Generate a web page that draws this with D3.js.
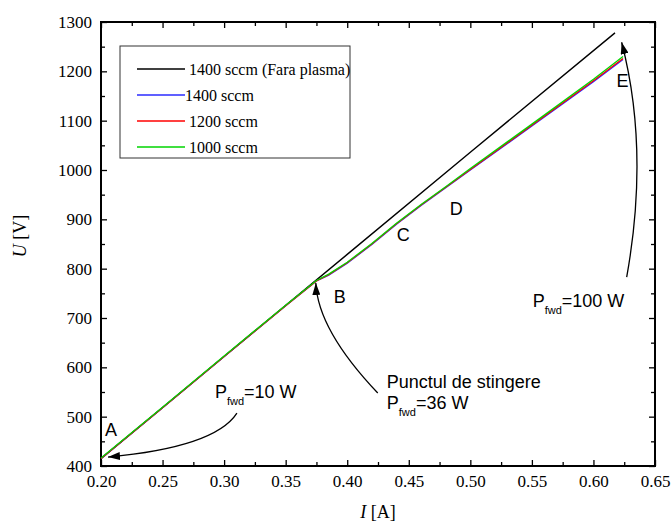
<!DOCTYPE html>
<html>
<head>
<meta charset="utf-8">
<script src="https://cdn.jsdelivr.net/npm/d3@7"></script>
<style>
  body { margin: 0; background: #fff; }
  svg { display: block; }
</style>
</head>
<body>
<svg id="chart" width="672" height="524"></svg>
<script>
// I [A] / U [V]
var currentNoPlasma = [0.200, 0.300, 0.400, 0.500, 0.6175];
var voltNoPlasma = [415, 622, 829, 1036, 1278];

var current = [0.200, 0.250, 0.300, 0.350, 0.375, 0.385, 0.400, 0.420, 0.440, 0.460, 0.480, 0.500, 0.550, 0.600, 0.624];
var volt1400 = [415, 518, 622, 725, 775, 787, 811, 849, 890, 928, 964, 1000, 1089, 1179, 1224];
var volt1200 = [415, 518, 622, 725, 775, 788, 812, 850, 891, 929, 965, 1001, 1091, 1181, 1226];
var volt1000 = [416, 519, 623, 726, 776, 789, 813, 851, 892, 930, 966, 1003, 1093, 1184, 1230];

var seriesNames = ["1400 sccm (Fara plasma)", "1400 sccm", "1200 sccm", "1000 sccm"];
var seriesColors = ["#000000", "#2b2bff", "#ff0000", "#00d400"];

var xTicks = [0.20, 0.25, 0.30, 0.35, 0.40, 0.45, 0.50, 0.55, 0.60, 0.65];
var yTicks = [400, 500, 600, 700, 800, 900, 1000, 1100, 1200, 1300];

// point letters [I, U]
var pointLetters = ["A", "B", "C", "D", "E"];
var pointPos = [[0.2032, 461], [0.3891, 730], [0.4403, 856], [0.4833, 909], [0.6188, 1168]];

// arrows: start, control, end in data units
var arrows = [
    [[0.3104, 507], [0.2925, 438], [0.2057, 418]],
    [[0.4248, 548], [0.3761, 676], [0.3745, 771]],
    [[0.6270, 783], [0.6456, 1041], [0.6229, 1259]]
];

var margin = {top: 22, right: 17, bottom: 58, left: 101},
    width = 672 - margin.left - margin.right,
    height = 524 - margin.top - margin.bottom;

var svg = d3.select("#chart");
var g = svg.append("g")
    .attr("transform", "translate(" + margin.left + "," + margin.top + ")");

var x = d3.scaleLinear().domain([0.2, 0.65]).range([0, width]);
var y = d3.scaleLinear().domain([400, 1300]).range([height, 0]);

var serif = "'Liberation Serif', 'Times New Roman', serif";
var sans = "'Liberation Sans', Arial, sans-serif";

svg.append("defs").append("marker")
    .attr("id", "head")
    .attr("viewBox", "0 0 12 8")
    .attr("refX", 12).attr("refY", 4)
    .attr("markerWidth", 12).attr("markerHeight", 8)
    .attr("markerUnits", "userSpaceOnUse")
    .attr("orient", "auto")
  .append("path")
    .attr("d", "M0,0 L12,4 L0,8 Z")
    .attr("fill", "#000");

/* axes */
var minorX = d3.range(0.225, 0.65, 0.05);
var minorY = d3.range(450, 1300, 100);

function styleAxis(sel) {
    sel.attr("font-family", serif).attr("font-size", 17);
    sel.select(".domain").remove();
    sel.selectAll(".tick line").attr("stroke", "#000").attr("stroke-width", 1.3);
    sel.selectAll("text")
        .style("font-family", serif).style("font-size", "17px").attr("fill", "#000");
}

g.append("g").attr("transform", "translate(0," + height + ")")
    .call(d3.axisBottom(x).tickValues(xTicks).tickFormat(d3.format(".2f")).tickSize(-6).tickPadding(9))
    .call(styleAxis);
g.append("g").attr("transform", "translate(0," + height + ")")
    .call(d3.axisBottom(x).tickValues(minorX).tickFormat("").tickSize(-4))
    .call(styleAxis);
g.append("g")
    .call(d3.axisTop(x).tickValues(xTicks).tickFormat("").tickSize(-6))
    .call(styleAxis);
g.append("g")
    .call(d3.axisTop(x).tickValues(minorX).tickFormat("").tickSize(-4))
    .call(styleAxis);

g.append("g")
    .call(d3.axisLeft(y).tickValues(yTicks).tickFormat(d3.format("d")).tickSize(-6).tickPadding(9))
    .call(styleAxis);
g.append("g")
    .call(d3.axisLeft(y).tickValues(minorY).tickFormat("").tickSize(-4))
    .call(styleAxis);
g.append("g").attr("transform", "translate(" + width + ",0)")
    .call(d3.axisRight(y).tickValues(yTicks).tickFormat("").tickSize(-6))
    .call(styleAxis);
g.append("g").attr("transform", "translate(" + width + ",0)")
    .call(d3.axisRight(y).tickValues(minorY).tickFormat("").tickSize(-4))
    .call(styleAxis);

g.append("rect")
    .attr("width", width).attr("height", height)
    .attr("fill", "none").attr("stroke", "#000").attr("stroke-width", 2);

/* lines */
var line = d3.line()
    .x(function(d) { return x(d[0]); })
    .y(function(d) { return y(d[1]); });

var series = [
    d3.zip(currentNoPlasma, voltNoPlasma),
    d3.zip(current, volt1400),
    d3.zip(current, volt1200),
    d3.zip(current, volt1000)
];

g.selectAll(".series").data(series).enter().append("path")
    .attr("class", "series")
    .attr("d", line)
    .attr("fill", "none")
    .attr("stroke", function(d, i) { return seriesColors[i]; })
    .attr("stroke-width", function(d, i) { return i == 0 ? 1.4 : 1.3; });

/* legend */
var legend = g.append("g").attr("transform", "translate(" + (120 - margin.left) + "," + (46 - margin.top) + ")");
legend.append("rect")
    .attr("width", 230).attr("height", 112)
    .attr("fill", "#fff").attr("stroke", "#333").attr("stroke-width", 1);
var textX = [69, 65, 69, 69];
seriesNames.forEach(function(name, i) {
    var ly = 23 + i * 26;
    legend.append("line")
        .attr("x1", 17).attr("x2", 65).attr("y1", ly).attr("y2", ly)
        .attr("stroke", seriesColors[i]).attr("stroke-width", 1.3);
    legend.append("text")
        .attr("x", textX[i]).attr("y", ly + 6)
        .attr("font-family", serif).attr("font-size", 16)
        .text(name);
});

/* annotations */
g.selectAll(".letter").data(pointLetters).enter().append("text")
    .attr("class", "letter")
    .attr("x", function(d, i) { return x(pointPos[i][0]); })
    .attr("y", function(d, i) { return y(pointPos[i][1]); })
    .attr("font-family", sans).attr("font-size", 18)
    .text(function(d) { return d; });

g.selectAll(".arrow").data(arrows).enter().append("path")
    .attr("class", "arrow")
    .attr("d", function(d) {
        return "M" + x(d[0][0]) + "," + y(d[0][1]) +
            " Q" + x(d[1][0]) + "," + y(d[1][1]) +
            " " + x(d[2][0]) + "," + y(d[2][1]);
    })
    .attr("fill", "none").attr("stroke", "#000").attr("stroke-width", 1.3)
    .attr("marker-end", "url(#head)");

function pfwd(ix, uy, value) {
    var t = g.append("text")
        .attr("x", x(ix)).attr("y", y(uy))
        .attr("font-family", sans).attr("font-size", 18);
    t.append("tspan").text("P");
    t.append("tspan").attr("font-size", 11).attr("dy", 7).text("fwd");
    t.append("tspan").attr("dy", -7).text("=" + value + " W");
}
pfwd(0.2925, 538, 10);
g.append("text")
    .attr("x", x(0.4321)).attr("y", y(558))
    .attr("font-family", sans).attr("font-size", 18)
    .text("Punctul de stingere");
pfwd(0.4321, 515.5, 36);
pfwd(0.5506, 722, 100);

/* axis titles */
var xt = svg.append("text")
    .attr("x", margin.left + width / 2).attr("y", 518)
    .attr("text-anchor", "middle")
    .attr("font-family", serif).attr("font-size", 18);
xt.append("tspan").attr("font-style", "italic").text("I");
xt.append("tspan").text(" [A]");

var yt = svg.append("text")
    .attr("transform", "translate(26," + 236 + ") rotate(-90)")
    .attr("text-anchor", "middle")
    .attr("font-family", serif).attr("font-size", 18);
yt.append("tspan").attr("font-style", "italic").text("U");
yt.append("tspan").text(" [V]");
</script>
</body>
</html>
